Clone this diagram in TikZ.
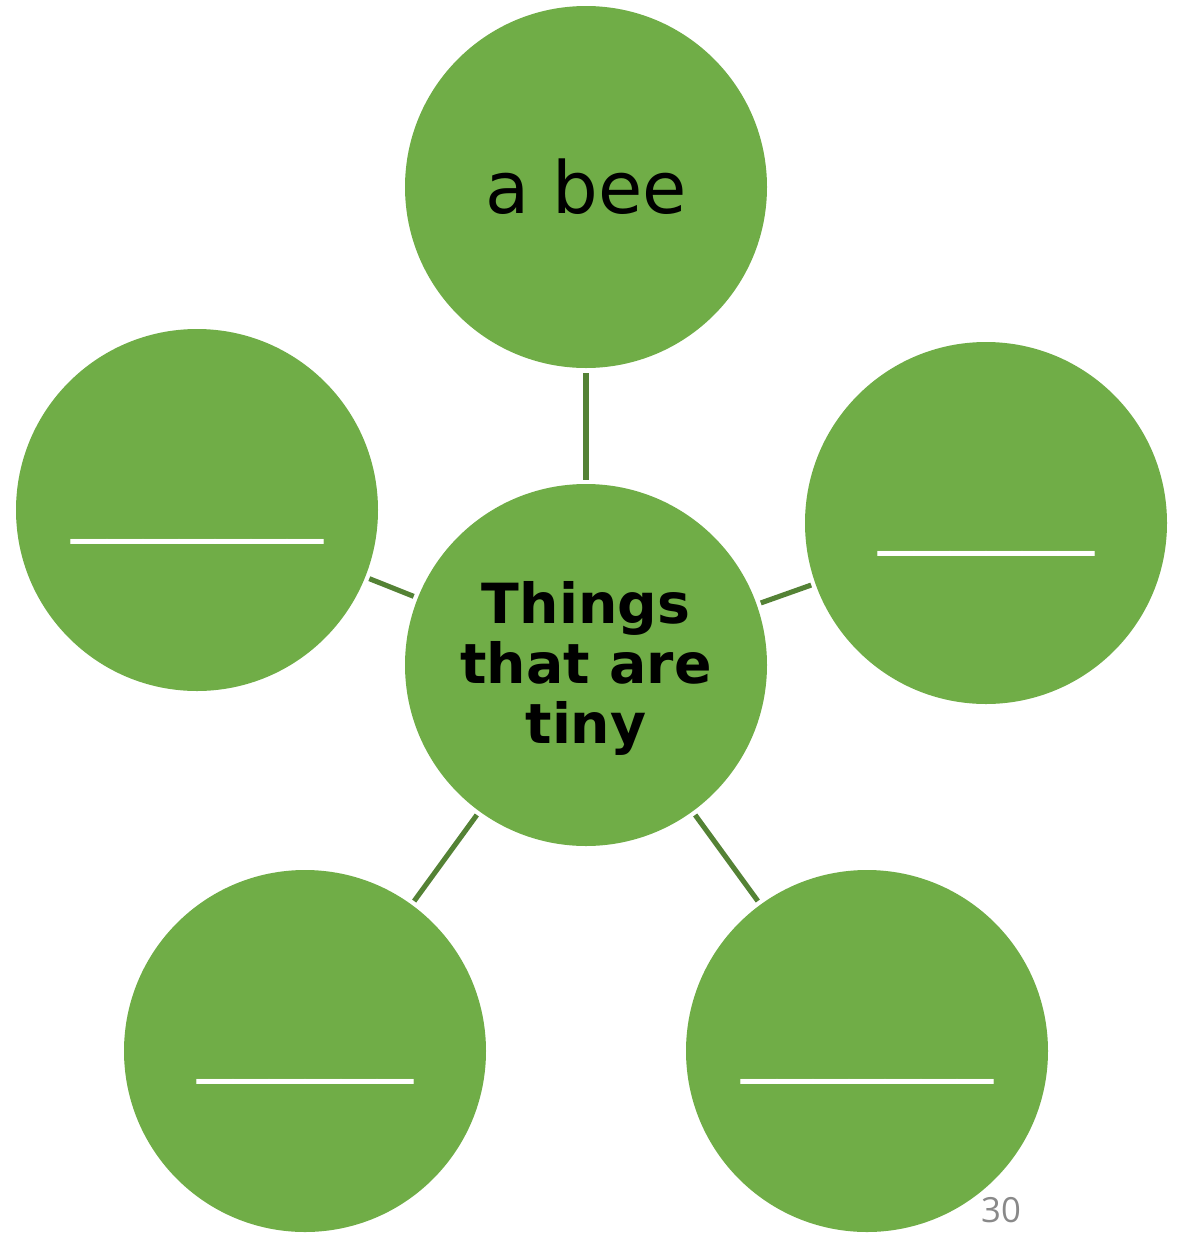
\documentclass[tikz,border=0pt]{standalone}
\usepackage{fontspec}
\setmainfont{DejaVu Sans}
\newfontfamily\pagefont{Open Sans}
\usetikzlibrary{positioning}

\definecolor{bubblegreen}{RGB}{112,173,71}
\definecolor{spokegreen}{RGB}{84,130,53}
\definecolor{pagegray}{RGB}{137,137,137}

\tikzset{
	bubble/.style={circle, fill=bubblegreen, draw=none, minimum size=271.5pt, inner sep=0pt, align=center},
	spoke/.style={draw=spokegreen, line width=3.8pt, shorten >=3pt, shorten <=3pt},
	blankline/.style={inner sep=0pt, anchor=base, text=white, font=\fontsize{54}{65}\selectfont}}
\tikzset{every picture/.style={line width=0.75pt}}

\begin{document}
\begin{tikzpicture}[x=0.75pt,y=0.75pt,yscale=-1,xscale=1]
\useasboundingbox (0,0) rectangle (1178,1239);

% circles
\node [bubble, font=\fontsize{54}{65}\selectfont] (bee) at (586,187) {a bee};
\node [bubble, label={[align=center, inner sep=0pt, yshift=-2.5pt, font=\bfseries\fontsize{41.5}{45}\selectfont]center:Things\\that are\\tiny}] (tiny) at (586,665) {};
\node [bubble] (left) at (197,510) {};
\node [bubble] (right) at (986,523) {};
\node [bubble] (botleft) at (305,1051) {};
\node [bubble] (botright) at (867,1051) {};

% blanks to fill in
\node [blankline] (leftblank) at (197,527) {\_\_\_\_\_\_\_};
\node [blankline] (rightblank) at (986,539) {\_\_\_\_\_\_};
\node [blankline] (botleftblank) at (305,1067) {\_\_\_\_\_\_};
\node [blankline] (botrightblank) at (867,1067) {\_\_\_\_\_\_\_};

% spokes
\draw [spoke] (tiny) -- (bee);
\draw [spoke] (tiny) -- (left);
\draw [spoke] (tiny) -- (right);
\draw [spoke] (tiny) -- (botleft);
\draw [spoke] (tiny) -- (botright);

% page number
\node [text=pagegray, font=\pagefont\fontsize{26}{30}\selectfont, inner sep=0pt] (pagenum) at (1001,1210) {30};

\end{tikzpicture}
\end{document}
